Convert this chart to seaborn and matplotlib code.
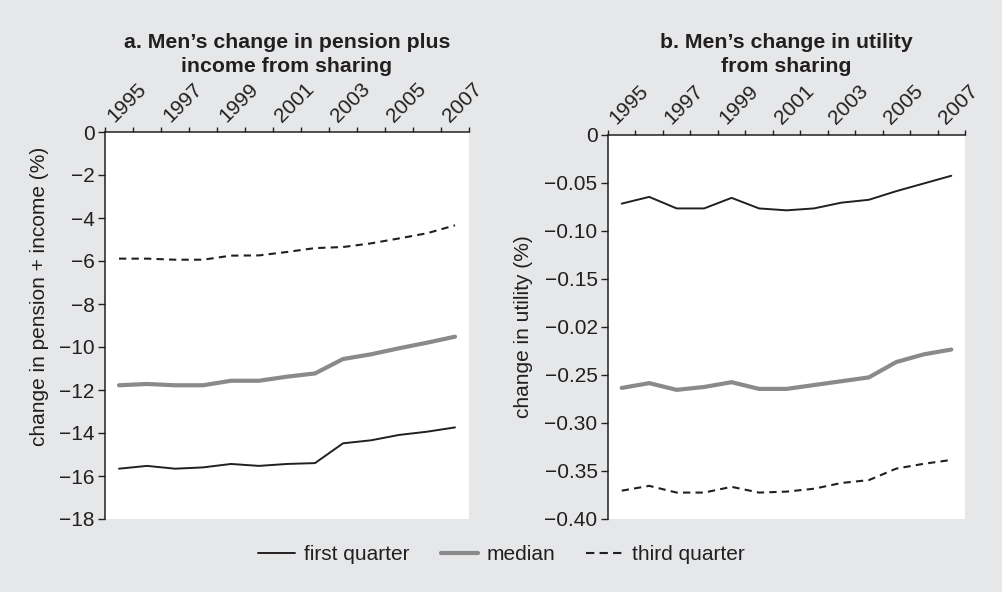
"""Men's change in pension+income and utility from sharing, 1995-2007."""

import matplotlib.pyplot as plt
import pandas as pd
import seaborn as sns
from matplotlib.lines import Line2D

years = [1995, 1996, 1997, 1998, 1999, 2000, 2001, 2002, 2003, 2004, 2005, 2006, 2007]
series_names = ["first quarter", "median", "third quarter"]

# panel a: change in pension + income (%)
pension_q1 = [-15.66, -15.53, -15.66, -15.60, -15.44, -15.53, -15.44, -15.40, -14.48, -14.34, -14.09, -13.94, -13.74]
pension_med = [-11.78, -11.72, -11.78, -11.78, -11.57, -11.57, -11.38, -11.23, -10.56, -10.34, -10.06, -9.80, -9.52]
pension_q3 = [-5.89, -5.89, -5.94, -5.94, -5.75, -5.74, -5.58, -5.40, -5.35, -5.18, -4.95, -4.71, -4.34]

# panel b: change in utility (%)
utility_q1 = [-0.072, -0.065, -0.077, -0.077, -0.066, -0.077, -0.079, -0.077, -0.071, -0.068, -0.059, -0.051, -0.043]
utility_med = [-0.264, -0.259, -0.266, -0.263, -0.258, -0.265, -0.265, -0.261, -0.257, -0.253, -0.237, -0.229, -0.224]
utility_q3 = [-0.371, -0.366, -0.373, -0.373, -0.367, -0.373, -0.372, -0.369, -0.363, -0.360, -0.348, -0.343, -0.339]

year_labels = ["1995", "1997", "1999", "2001", "2003", "2005", "2007"]
pension_ticks = [0, -2, -4, -6, -8, -10, -12, -14, -16, -18]
pension_tick_labels = ["0", "−2", "−4", "−6", "−8", "−10", "−12", "−14", "−16", "−18"]
utility_ticks = [0, -0.05, -0.10, -0.15, -0.20, -0.25, -0.30, -0.35, -0.40]
utility_tick_labels = ["0", "−0.05", "−0.10", "−0.15", "−0.02", "−0.25", "−0.30", "−0.35", "−0.40"]

titles = [
    "a. Men\u2019s change in pension plus\nincome from sharing",
    "b. Men\u2019s change in utility\nfrom sharing",
]
ylabels = ["change in pension + income (%)", "change in utility (%)"]

BG = "#e6e7e8"
INK = "#231f20"
GREY = "#8a8a8a"

palette = {"first quarter": INK, "median": GREY, "third quarter": INK}
sizes = {"first quarter": 1.4, "median": 3.0, "third quarter": 1.5}
dashes = {"first quarter": "", "median": "", "third quarter": (3.5, 2.5)}


def long_frame(values):
    rows = []
    for name, vals in zip(series_names, values):
        for yr, v in zip(years, vals):
            rows.append({"year": yr, "value": v, "series": name})
    return pd.DataFrame(rows)


pension_df = long_frame([pension_q1, pension_med, pension_q3])
utility_df = long_frame([utility_q1, utility_med, utility_q3])

sns.set_theme(style="white")
plt.rcParams["font.family"] = ["Liberation Sans", "DejaVu Sans"]
plt.rcParams["text.color"] = INK
plt.rcParams["axes.labelcolor"] = INK

fig = plt.figure(figsize=(10.03, 5.92), dpi=100, facecolor=BG)
ax_a = fig.add_axes([105 / 1003, 1 - 519 / 592, 364 / 1003, 387 / 592])
ax_b = fig.add_axes([608 / 1003, 1 - 518.5 / 592, 357 / 1003, 384 / 592])

panels = [
    (ax_a, pension_df, (-18, 0), pension_ticks, pension_tick_labels, (-0.154, 0.574)),
    (ax_b, utility_df, (-0.40, 0), utility_ticks, utility_tick_labels, (-0.21, 0.5)),
]

for i, (ax, df, ylim, yticks, ytl, lab_xy) in enumerate(panels):
    sns.lineplot(
        data=df, x="year", y="value", hue="series", style="series", size="series",
        palette=palette, sizes=sizes, dashes=dashes, legend=False, ax=ax,
    )
    ax.set_facecolor("white")
    ax.set_xlim(1994.5, 2007.5)
    ax.set_ylim(*ylim)

    # tick marks sit on year boundaries; labels hang just right of every other one
    ax.xaxis.tick_top()
    ax.set_xticks([1994.5 + k for k in range(14)], [""] * 14)
    ax.set_xticks([1994.82 + 2 * k for k in range(7)], year_labels, minor=True,
                  rotation=45, ha="left", va="baseline", rotation_mode="anchor")
    ax.tick_params(axis="x", which="major", top=True, bottom=False, direction="out",
                   length=3.8, width=1, color=INK)
    ax.tick_params(axis="x", which="minor", top=True, bottom=False, direction="out",
                   length=3.8, width=1, color="none", labelcolor=INK,
                   labelsize=15, pad=3)
    ax.set_yticks(yticks, ytl)
    ax.tick_params(axis="y", left=True, direction="out", length=5, width=1,
                   colors=INK, labelsize=15, pad=2.5)

    for side in ["right", "bottom"]:
        ax.spines[side].set_visible(False)
    for side in ["top", "left"]:
        ax.spines[side].set_color(INK)
        ax.spines[side].set_linewidth(1.1)

    ax.set_xlabel("")
    ax.set_ylabel(ylabels[i], fontsize=15)
    ax.yaxis.set_label_coords(*lab_xy)

    bbox = ax.get_position()
    fig.text((bbox.x0 + bbox.x1) / 2, 1 - 76 / 592, titles[i], ha="center",
             va="bottom", fontsize=15.3, fontweight="bold", linespacing=1.35)

handles = [
    Line2D([], [], color=palette[n], linewidth=sizes[n],
           linestyle=(0, (4, 2.5)) if dashes[n] else "-")
    for n in series_names
]
fig.legend(handles, series_names, loc="center", bbox_to_anchor=(0.5, 1 - 555 / 592),
           ncol=3, frameon=False, fontsize=15, handlelength=1.8,
           handletextpad=0.4, columnspacing=1.5)

fig.savefig("out.png", dpi=100, facecolor=BG)
